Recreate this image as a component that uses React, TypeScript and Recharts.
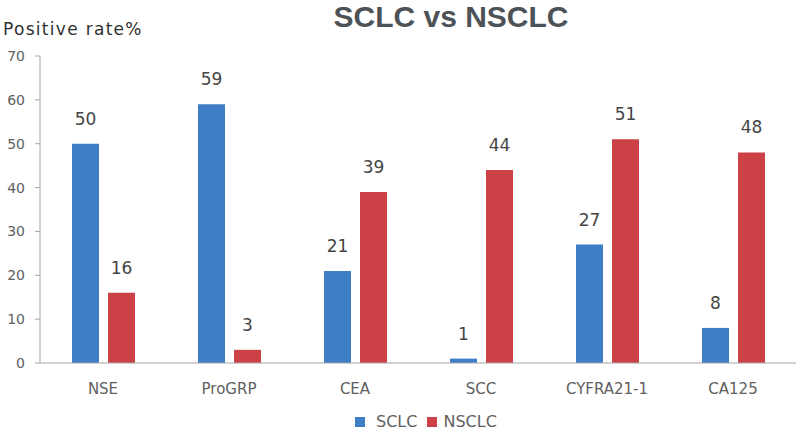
import React from 'react';
import { BarChart, Bar, XAxis, YAxis, LabelList } from 'recharts';

const categories = ['NSE', 'ProGRP', 'CEA', 'SCC', 'CYFRA21-1', 'CA125'];
const sclcValues = [50, 59, 21, 1, 27, 8];
const nsclcValues = [16, 3, 39, 44, 51, 48];
const yTicks = [0, 10, 20, 30, 40, 50, 60, 70];
const seriesNames = ['SCLC', 'NSCLC'];

const chartData = categories.map((name, i) => ({
  name,
  SCLC: sclcValues[i],
  NSCLC: nsclcValues[i],
}));

const FONT = '"DejaVu Sans", Verdana, sans-serif';
const TITLE_FONT = '"Liberation Sans", Arial, sans-serif';
const BLUE = '#3d7ec6';
const RED = '#cc4146';
const AXIS = '#a6a6a6';
const TEXT = '#606060';
const seriesColors = [BLUE, RED];

const App: React.FC = () => {
  return (
    <div style={{ position: 'absolute', left: 0, top: 0, width: 800, height: 434, background: '#fff', fontFamily: FONT }}>
      <div style={{
        position: 'absolute',
        left: 0,
        width: 902,
        top: 0,
        lineHeight: 'normal',
        textAlign: 'center',
        fontFamily: TITLE_FONT,
        fontSize: 30,
        fontWeight: 700,
        color: '#4d5257',
      }}>
        SCLC vs NSCLC
      </div>
      <div style={{
        position: 'absolute',
        left: 3,
        top: 19,
        fontSize: 17,
        letterSpacing: 1.3,
        color: '#303030',
      }}>
        Positive rate%
      </div>
      <BarChart
        width={800}
        height={434}
        data={chartData}
        margin={{ top: 56, right: 4, left: 0, bottom: 41 }}
        barGap={9}
        barSize={27}
      >
        <XAxis
          dataKey="name"
          height={30}
          tick={{ fontSize: 15, fill: TEXT, fontFamily: FONT }}
          tickLine={false}
          tickMargin={14}
          stroke={AXIS}
        />
        <YAxis
          width={40}
          domain={[0, 70]}
          ticks={yTicks}
          tick={{ fontSize: 14, fill: TEXT, fontFamily: FONT }}
          tickSize={5}
          tickMargin={10}
          stroke={AXIS}
        />
        <Bar dataKey="SCLC" fill={BLUE} isAnimationActive={false}>
          <LabelList dataKey="SCLC" position="top" offset={19} style={{ fontSize: 17, fill: '#454545', fontFamily: FONT }} />
        </Bar>
        <Bar dataKey="NSCLC" fill={RED} isAnimationActive={false}>
          <LabelList dataKey="NSCLC" position="top" offset={19} style={{ fontSize: 17, fill: '#454545', fontFamily: FONT }} />
        </Bar>
      </BarChart>
      <div style={{
        position: 'absolute',
        left: 355,
        top: 412,
        display: 'flex',
        alignItems: 'center',
        fontSize: 16,
        color: TEXT,
      }}>
        {seriesNames.map((name, i) => (
          <div key={name} style={{ display: 'flex', alignItems: 'center', marginRight: 10 }}>
            <span style={{ display: 'inline-block', width: 10, height: 10, background: seriesColors[i], marginRight: i === 0 ? 11 : 6 }} />
            <span>{name}</span>
          </div>
        ))}
      </div>
    </div>
  );
};

export default App;
